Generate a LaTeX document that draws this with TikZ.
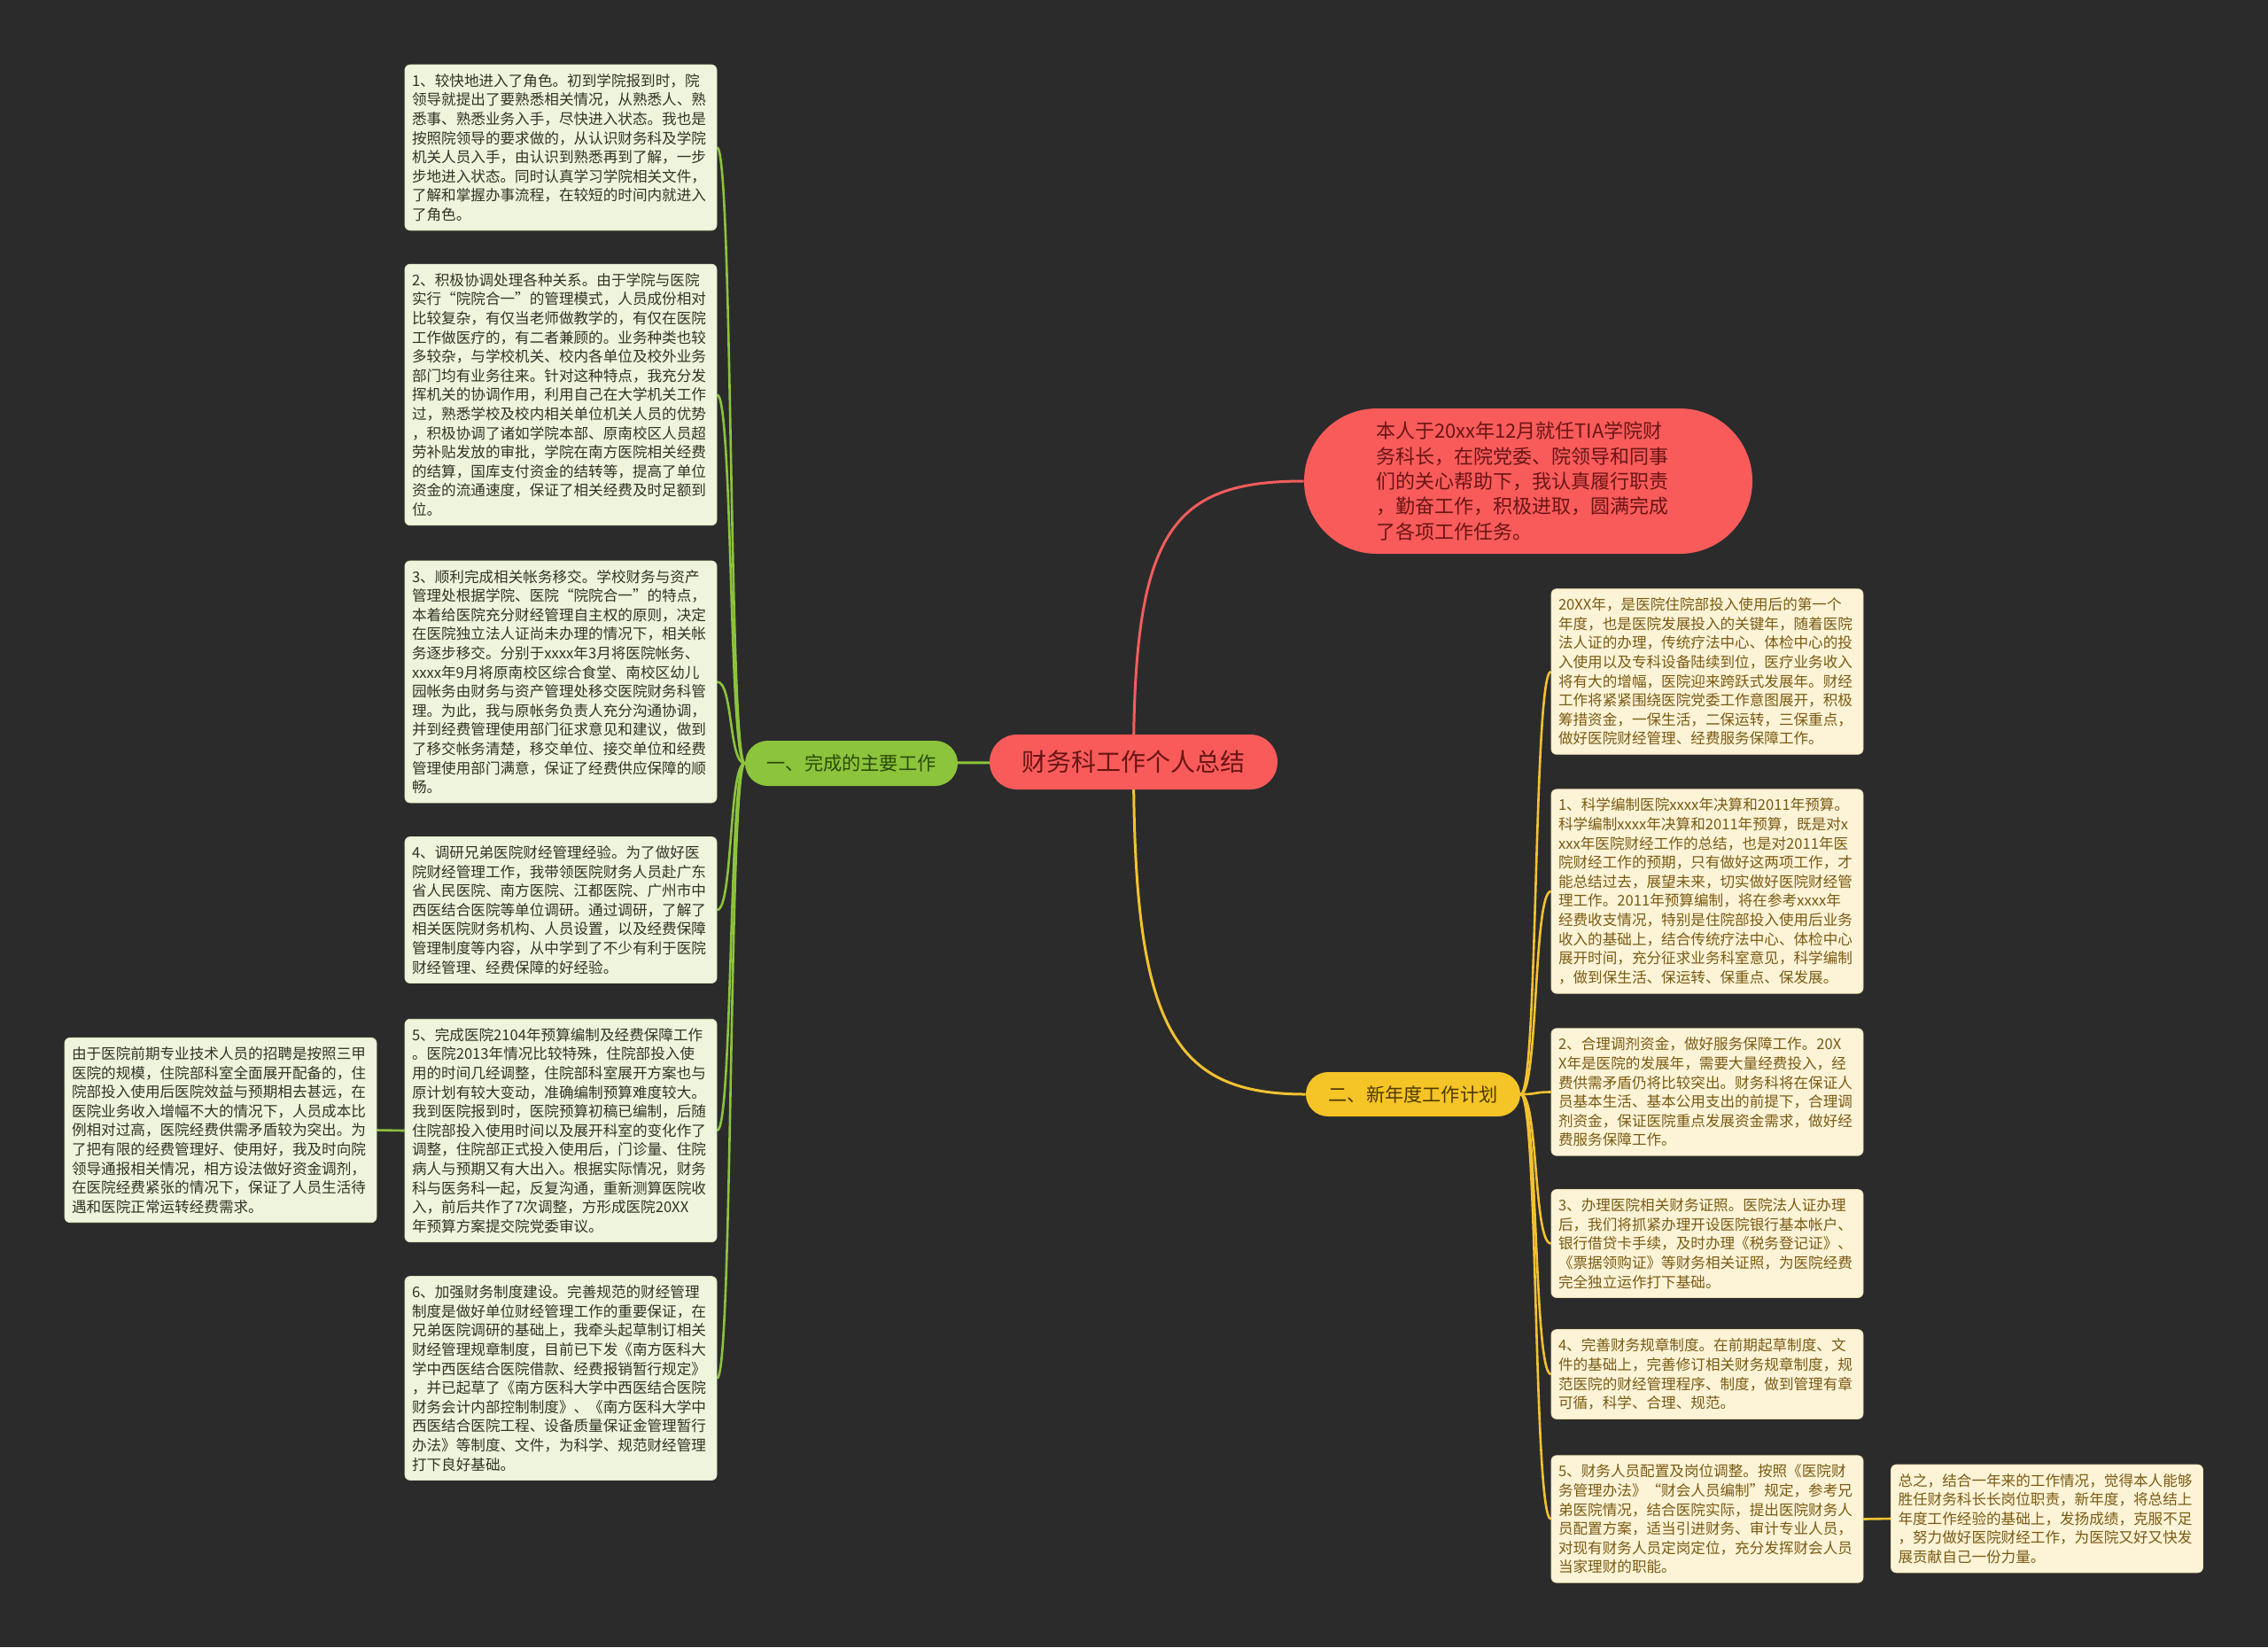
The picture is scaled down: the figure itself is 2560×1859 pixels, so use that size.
\documentclass[tikz,border=0pt]{standalone}
\usepackage{fontspec}
\newfontfamily\cjk{Noto Sans CJK SC}
\usetikzlibrary{backgrounds}
\definecolor{bgc}{HTML}{2B2B2B}
\definecolor{redfill}{HTML}{F95B5B}
\definecolor{redtext}{HTML}{6A1515}
\definecolor{redline}{HTML}{F25C5C}
\definecolor{grfill}{HTML}{8CC43C}
\definecolor{grtext}{HTML}{2C4A0A}
\definecolor{grline}{HTML}{8CC43C}
\definecolor{yefill}{HTML}{F5C426}
\definecolor{yetext}{HTML}{4E3A00}
\definecolor{yeline}{HTML}{F2C230}
\definecolor{lfill}{HTML}{EEF5DC}
\definecolor{lbord}{HTML}{DCE9C2}
\definecolor{ltext}{HTML}{333326}
\definecolor{rfill}{HTML}{FDF4D8}
\definecolor{rbord}{HTML}{EFE0B4}
\definecolor{rtext}{HTML}{7A5A12}
\begin{document}
\begin{tikzpicture}[x=0.5pt,y=-0.5pt,
  boxbase/.style={rounded corners=3pt, text width=168pt, inner xsep=4pt, inner ysep=5pt, align=left, font=\cjk\fontsize{8.3pt}{10.8pt}\selectfont},
  leftbox/.style={boxbase, draw=lbord, fill=lfill, text=ltext},
  rightbox/.style={boxbase, draw=rbord, fill=rfill, text=rtext},
  rootnode/.style={fill=redfill, text=redtext, rounded corners=15.5pt, minimum width=162.5pt, minimum height=31pt, inner sep=0pt, font=\cjk\fontsize{14pt}{16pt}\selectfont},
  branchone/.style={fill=grfill, text=grtext, rounded corners=12.75pt, minimum width=120pt, minimum height=25.5pt, inner sep=0pt, font=\cjk\fontsize{10.6pt}{12pt}\selectfont},
  branchtwo/.style={fill=yefill, text=yetext, rounded corners=12.5pt, minimum width=121pt, minimum height=25pt, inner sep=0pt, font=\cjk\fontsize{10.6pt}{12pt}\selectfont},
  introbox/.style={fill=redfill, text=redtext, rounded corners=41pt, minimum width=253pt, minimum height=82pt, text width=172pt, inner xsep=0pt, align=left, font=\cjk\fontsize{11pt}{14.15pt}\selectfont},
  gline/.style={draw=grline, line width=1.3pt},
  yline/.style={draw=yeline, line width=1.3pt},
  rline/.style={draw=redline, line width=1.3pt}
]
\useasboundingbox (0,0) rectangle (2560,1859);

% centre and branches
\node[rootnode] (root) at (1279.5,860) {财务科工作个人总结};
\node[branchone] (b1) at (961,861.5) {一、完成的主要工作};
\node[branchtwo] (b2) at (1595,1235) {二、新年度工作计划};
\node[introbox] (intro) at (1725,543) {本人于20xx年12月就任TIA学院财\\务科长，在院党委、院领导和同事\\们的关心帮助下，我认真履行职责\\，勤奋工作，积极进取，圆满完成\\了各项工作任务。};

% left column
\node[leftbox] (L1) at (633,166.5) {1、较快地进入了角色。初到学院报到时，院\\领导就提出了要熟悉相关情况，从熟悉人、熟\\悉事、熟悉业务入手，尽快进入状态。我也是\\按照院领导的要求做的，从认识财务科及学院\\机关人员入手，由认识到熟悉再到了解，一步\\步地进入状态。同时认真学习学院相关文件，\\了解和掌握办事流程，在较短的时间内就进入\\了角色。};
\node[leftbox] (L2) at (633,445.5) {2、积极协调处理各种关系。由于学院与医院\\实行“院院合一”的管理模式，人员成份相对\\比较复杂，有仅当老师做教学的，有仅在医院\\工作做医疗的，有二者兼顾的。业务种类也较\\多较杂，与学校机关、校内各单位及校外业务\\部门均有业务往来。针对这种特点，我充分发\\挥机关的协调作用，利用自己在大学机关工作\\过，熟悉学校及校内相关单位机关人员的优势\\，积极协调了诸如学院本部、原南校区人员超\\劳补贴发放的审批，学院在南方医院相关经费\\的结算，国库支付资金的结转等，提高了单位\\资金的流通速度，保证了相关经费及时足额到\\位。};
\node[leftbox] (L3) at (633,769.5) {3、顺利完成相关帐务移交。学校财务与资产\\管理处根据学院、医院“院院合一”的特点，\\本着给医院充分财经管理自主权的原则，决定\\在医院独立法人证尚未办理的情况下，相关帐\\务逐步移交。分别于xxxx年3月将医院帐务、\\xxxx年9月将原南校区综合食堂、南校区幼儿\\园帐务由财务与资产管理处移交医院财务科管\\理。为此，我与原帐务负责人充分沟通协调，\\并到经费管理使用部门征求意见和建议，做到\\了移交帐务清楚，移交单位、接交单位和经费\\管理使用部门满意，保证了经费供应保障的顺\\畅。};
\node[leftbox] (L4) at (633,1027) {4、调研兄弟医院财经管理经验。为了做好医\\院财经管理工作，我带领医院财务人员赴广东\\省人民医院、南方医院、江都医院、广州市中\\西医结合医院等单位调研。通过调研，了解了\\相关医院财务机构、人员设置，以及经费保障\\管理制度等内容，从中学到了不少有利于医院\\财经管理、经费保障的好经验。};
\node[leftbox] (L5) at (633,1276) {5、完成医院2104年预算编制及经费保障工作\\。医院2013年情况比较特殊，住院部投入使\\用的时间几经调整，住院部科室展开方案也与\\原计划有较大变动，准确编制预算难度较大。\\我到医院报到时，医院预算初稿已编制，后随\\住院部投入使用时间以及展开科室的变化作了\\调整，住院部正式投入使用后，门诊量、住院\\病人与预期又有大出入。根据实际情况，财务\\科与医务科一起，反复沟通，重新测算医院收\\入，前后共作了7次调整，方形成医院20XX\\年预算方案提交院党委审议。};
\node[leftbox] (L6) at (633,1555.5) {6、加强财务制度建设。完善规范的财经管理\\制度是做好单位财经管理工作的重要保证，在\\兄弟医院调研的基础上，我牵头起草制订相关\\财经管理规章制度，目前已下发《南方医科大\\学中西医结合医院借款、经费报销暂行规定》\\，并已起草了《南方医科大学中西医结合医院\\财务会计内部控制制度》、《南方医科大学中\\西医结合医院工程、设备质量保证金管理暂行\\办法》等制度、文件，为科学、规范财经管理\\打下良好基础。};
\node[leftbox] (FL) at (249,1275.5) {由于医院前期专业技术人员的招聘是按照三甲\\医院的规模，住院部科室全面展开配备的，住\\院部投入使用后医院效益与预期相去甚远，在\\医院业务收入增幅不大的情况下，人员成本比\\例相对过高，医院经费供需矛盾较为突出。为\\了把有限的经费管理好、使用好，我及时向院\\领导通报相关情况，相方设法做好资金调剂，\\在医院经费紧张的情况下，保证了人员生活待\\遇和医院正常运转经费需求。};

% right column
\node[rightbox] (R0) at (1927,758) {20XX年，是医院住院部投入使用后的第一个\\年度，也是医院发展投入的关键年，随着医院\\法人证的办理，传统疗法中心、体检中心的投\\入使用以及专科设备陆续到位，医疗业务收入\\将有大的增幅，医院迎来跨跃式发展年。财经\\工作将紧紧围绕医院党委工作意图展开，积极\\筹措资金，一保生活，二保运转，三保重点，\\做好医院财经管理、经费服务保障工作。};
\node[rightbox] (R1) at (1927,1006) {1、科学编制医院xxxx年决算和2011年预算。\\科学编制xxxx年决算和2011年预算，既是对x\\xxx年医院财经工作的总结，也是对2011年医\\院财经工作的预期，只有做好这两项工作，才\\能总结过去，展望未来，切实做好医院财经管\\理工作。2011年预算编制，将在参考xxxx年\\经费收支情况，特别是住院部投入使用后业务\\收入的基础上，结合传统疗法中心、体检中心\\展开时间，充分征求业务科室意见，科学编制\\，做到保生活、保运转、保重点、保发展。};
\node[rightbox] (R2) at (1927,1232.5) {2、合理调剂资金，做好服务保障工作。20X\\X年是医院的发展年，需要大量经费投入，经\\费供需矛盾仍将比较突出。财务科将在保证人\\员基本生活、基本公用支出的前提下，合理调\\剂资金，保证医院重点发展资金需求，做好经\\费服务保障工作。};
\node[rightbox] (R3) at (1927,1403.5) {3、办理医院相关财务证照。医院法人证办理\\后，我们将抓紧办理开设医院银行基本帐户、\\银行借贷卡手续，及时办理《税务登记证》、\\《票据领购证》等财务相关证照，为医院经费\\完全独立运作打下基础。};
\node[rightbox] (R4) at (1927,1551) {4、完善财务规章制度。在前期起草制度、文\\件的基础上，完善修订相关财务规章制度，规\\范医院的财经管理程序、制度，做到管理有章\\可循，科学、合理、规范。};
\node[rightbox] (R5) at (1927,1714.5) {5、财务人员配置及岗位调整。按照《医院财\\务管理办法》“财会人员编制”规定，参考兄\\弟医院情况，结合医院实际，提出医院财务人\\员配置方案，适当引进财务、审计专业人员，\\对现有财务人员定岗定位，充分发挥财会人员\\当家理财的职能。};
\node[rightbox] (FR) at (2310.5,1714) {总之，结合一年来的工作情况，觉得本人能够\\胜任财务科长长岗位职责，新年度，将总结上\\年度工作经验的基础上，发扬成绩，克服不足\\，努力做好医院财经工作，为医院又好又快发\\展贡献自己一份力量。};

\begin{scope}[on background layer]
\fill[bgc] (0,0) rectangle (2560,1859);
% root to branches
\draw[gline, line width=1.5pt] (root.center) -- (b1.center);
\draw[rline, line width=1.5pt] (root.center) .. controls +(0,-260) and +(-150,0) .. (intro.west);
\draw[yline, line width=1.5pt] (root.center) .. controls +(0,300) and +(-150,0) .. (b2.west);
% branch one children
\foreach \n in {L1,L2,L3,L4,L5,L6}
  \draw[gline] (b1.west) .. controls +(-18,0) and +(18,0) .. (\n.east);
\draw[gline] (L5.west) -- (FL.east);
% branch two children
\foreach \n in {R0,R1,R2,R3,R4,R5}
  \draw[yline] (b2.east) .. controls +(20,0) and +(-20,0) .. (\n.west);
\draw[yline] (R5.east) -- (FR.west);
\end{scope}
\end{tikzpicture}
\end{document}
